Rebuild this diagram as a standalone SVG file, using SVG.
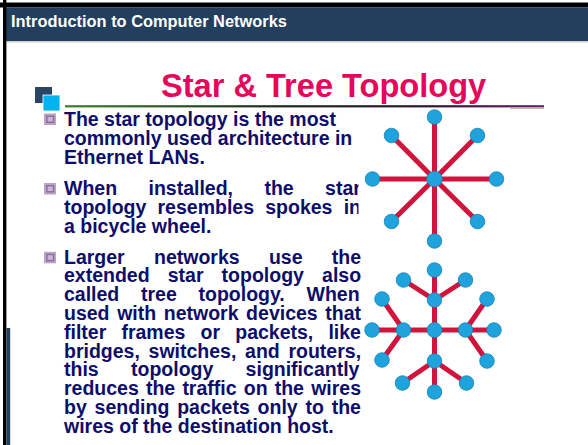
<svg xmlns="http://www.w3.org/2000/svg" width="588" height="445" viewBox="0 0 588 445">
  <defs>
    <style>
      .hdr { font-family: "Liberation Sans", Arial, sans-serif; font-weight: bold; font-size: 16.4px; fill: #ffffff; }
      .title { font-family: "Liberation Sans", Arial, sans-serif; font-weight: bold; font-size: 32.6px; fill: #e5075a; }
      .body { font-family: "Liberation Sans", Arial, sans-serif; font-weight: bold; font-size: 19.5px; fill: #0d0d6b; }
      .link { stroke: #d0143c; stroke-width: 5; stroke-linecap: butt; fill: none; }
      .dev { fill: #1ea3dc; stroke: #1a80b6; stroke-width: 0.8; }
    </style>
    <linearGradient id="rule" x1="0" y1="0" x2="1" y2="0">
      <stop offset="0" stop-color="#3d7f2c"/>
      <stop offset="0.45" stop-color="#1c2a1c"/>
      <stop offset="0.75" stop-color="#2a1530"/>
      <stop offset="1" stop-color="#6c1c6c"/>
    </linearGradient>
    <g id="bullet">
      <rect x="0" y="0" width="12" height="11.5" fill="#b9a3c6"/>
      <rect x="2.2" y="2" width="8" height="7.5" fill="#8e6a9e"/>
      <rect x="3.6" y="3.4" width="5.2" height="4.7" fill="#c9b6d2"/>
    </g>
  </defs>

  <rect x="0" y="0" width="588" height="445" fill="#ffffff"/>

  <!-- slide frame and header band -->
  <rect x="0" y="2.5" width="588" height="5" fill="#000000"/>
  <rect x="6" y="7.5" width="582" height="33.5" fill="#22405e"/>
  <rect x="6" y="41" width="582" height="1.6" fill="#cfd2d6"/>
  <rect x="3" y="0" width="3.4" height="445" fill="#000000"/>
  <rect x="6.4" y="328" width="3.8" height="117" fill="#22405e"/>
  <text class="hdr" x="11" y="27.3">Introduction to Computer Networks</text>

  <!-- title with corner squares and rule -->
  <rect x="35" y="87" width="17" height="16" fill="#2b4566"/>
  <rect x="43" y="95" width="17" height="16" fill="#00b4f0" stroke="#ffffff" stroke-width="0.8"/>
  <text class="title" x="161" y="97">Star &amp; Tree Topology</text>
  <rect x="65" y="105.2" width="479" height="2.2" fill="url(#rule)"/>
  <rect x="510" y="107.4" width="34" height="1.4" fill="#a9a9a9"/>

  <!-- bullet text -->
  <use href="#bullet" x="44" y="113.5"/>
  <text class="body" x="64" y="126">The star topology is the most</text>
  <text class="body" x="64" y="144.8">commonly used architecture in</text>
  <text class="body" x="64" y="163.6">Ethernet LANs.</text>

  <use href="#bullet" x="44" y="183"/>
  <text class="body" x="64" y="195" word-spacing="26">When installed, the star</text>
  <text class="body" x="64" y="213.8" word-spacing="5.8">topology resembles spokes in</text>
  <text class="body" x="64" y="232.6">a bicycle wheel.</text>

  <use href="#bullet" x="44" y="251.8"/>
  <text class="body" x="64" y="263.5" word-spacing="23.9">Larger networks use the</text>
  <text class="body" x="64" y="282.3" word-spacing="12.7">extended star topology also</text>
  <text class="body" x="64" y="301.1" word-spacing="16.3">called tree topology. When</text>
  <text class="body" x="64" y="319.9" word-spacing="2.2">used with network devices that</text>
  <text class="body" x="64" y="338.7" word-spacing="9.75">filter frames or packets, like</text>
  <text class="body" x="64" y="357.5" word-spacing="3.3">bridges, switches, and routers,</text>
  <text class="body" x="64" y="376.3" word-spacing="26.9">this topology significantly</text>
  <text class="body" x="64" y="395.1" word-spacing="1.75">reduces the traffic on the wires</text>
  <text class="body" x="64" y="413.9" word-spacing="2.4">by sending packets only to the</text>
  <text class="body" x="64" y="432.7">wires of the destination host.</text>

  <!-- star topology picture (white backdrop) -->
  <rect x="358.5" y="108" width="142" height="140" fill="#ffffff"/>

  <g id="connectors">
    <!-- star -->
    <line class="link" x1="434.5" y1="179" x2="434.5" y2="117"/>
    <line class="link" x1="434.5" y1="179" x2="434.5" y2="241"/>
    <line class="link" x1="434.5" y1="179" x2="372.5" y2="179"/>
    <line class="link" x1="434.5" y1="179" x2="496.5" y2="179"/>
    <line class="link" x1="434.5" y1="179" x2="391.5" y2="135.5"/>
    <line class="link" x1="434.5" y1="179" x2="477.5" y2="135.5"/>
    <line class="link" x1="434.5" y1="179" x2="391.5" y2="221.5"/>
    <line class="link" x1="434.5" y1="179" x2="477.5" y2="221.5"/>
    <!-- extended star: core to hubs -->
    <line class="link" x1="434.5" y1="330" x2="434.5" y2="300"/>
    <line class="link" x1="434.5" y1="330" x2="434.5" y2="361"/>
    <line class="link" x1="434.5" y1="330" x2="403.5" y2="330"/>
    <line class="link" x1="434.5" y1="330" x2="465.5" y2="330"/>
    <!-- upper hub -->
    <line class="link" x1="434.5" y1="300" x2="434.5" y2="270"/>
    <line class="link" x1="434.5" y1="300" x2="403.5" y2="280"/>
    <line class="link" x1="434.5" y1="300" x2="465.5" y2="280"/>
    <!-- lower hub -->
    <line class="link" x1="434.5" y1="361" x2="434.5" y2="392"/>
    <line class="link" x1="434.5" y1="361" x2="402.5" y2="383"/>
    <line class="link" x1="434.5" y1="361" x2="466.5" y2="383"/>
    <!-- left hub -->
    <line class="link" x1="403.5" y1="330" x2="372" y2="330"/>
    <line class="link" x1="403.5" y1="330" x2="382" y2="299"/>
    <line class="link" x1="403.5" y1="330" x2="382" y2="360"/>
    <!-- right hub -->
    <line class="link" x1="465.5" y1="330" x2="494" y2="330"/>
    <line class="link" x1="465.5" y1="330" x2="487" y2="299"/>
    <line class="link" x1="465.5" y1="330" x2="487" y2="361"/>
  </g>

  <!-- star nodes -->
  <g id="star-hub"><circle class="dev" cx="434.5" cy="179" r="7.8"/></g>
  <g id="star-n"><circle class="dev" cx="434.5" cy="117" r="7.3"/></g>
  <g id="star-s"><circle class="dev" cx="434.5" cy="241" r="7.3"/></g>
  <g id="star-w"><circle class="dev" cx="372.5" cy="179" r="7.3"/></g>
  <g id="star-e"><circle class="dev" cx="496.5" cy="179" r="7.3"/></g>
  <g id="star-nw"><circle class="dev" cx="391.5" cy="135.5" r="7.3"/></g>
  <g id="star-ne"><circle class="dev" cx="477.5" cy="135.5" r="7.3"/></g>
  <g id="star-sw"><circle class="dev" cx="391.5" cy="221.5" r="7.3"/></g>
  <g id="star-se"><circle class="dev" cx="477.5" cy="221.5" r="7.3"/></g>

  <!-- extended star nodes -->
  <g id="tree-core"><circle class="dev" cx="434.5" cy="330" r="7.5"/></g>
  <g id="tree-hub-up"><circle class="dev" cx="434.5" cy="300" r="7.3"/></g>
  <g id="tree-hub-down"><circle class="dev" cx="434.5" cy="361" r="7.3"/></g>
  <g id="tree-hub-left"><circle class="dev" cx="403.5" cy="330" r="7.3"/></g>
  <g id="tree-hub-right"><circle class="dev" cx="465.5" cy="330" r="7.3"/></g>
  <g id="tree-up-1"><circle class="dev" cx="434.5" cy="270" r="7.3"/></g>
  <g id="tree-up-2"><circle class="dev" cx="403.5" cy="280" r="7.3"/></g>
  <g id="tree-up-3"><circle class="dev" cx="465.5" cy="280" r="7.3"/></g>
  <g id="tree-down-1"><circle class="dev" cx="434.5" cy="392" r="7.3"/></g>
  <g id="tree-down-2"><circle class="dev" cx="402.5" cy="383" r="7.3"/></g>
  <g id="tree-down-3"><circle class="dev" cx="466.5" cy="383" r="7.3"/></g>
  <g id="tree-left-1"><circle class="dev" cx="372" cy="330" r="7.3"/></g>
  <g id="tree-left-2"><circle class="dev" cx="382" cy="299" r="7.3"/></g>
  <g id="tree-left-3"><circle class="dev" cx="382" cy="360" r="7.3"/></g>
  <g id="tree-right-1"><circle class="dev" cx="494" cy="330" r="7.3"/></g>
  <g id="tree-right-2"><circle class="dev" cx="487" cy="299" r="7.3"/></g>
  <g id="tree-right-3"><circle class="dev" cx="487" cy="361" r="7.3"/></g>
</svg>
